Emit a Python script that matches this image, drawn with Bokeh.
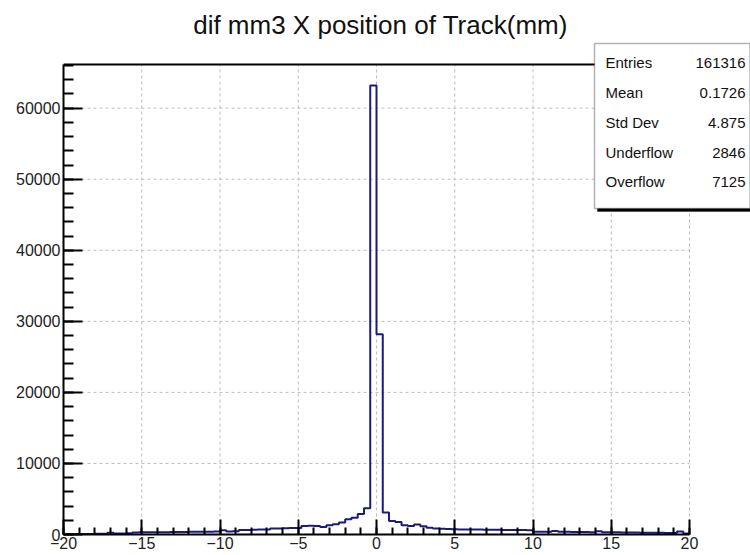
import numpy as np
from bokeh.plotting import figure
from bokeh.models import SingleIntervalTicker, Range1d, Label, BoxAnnotation
from bokeh.embed import file_html
from bokeh.resources import INLINE

# ---- data ----
title_text = "dif mm3 X position of Track(mm)"
bin_lo = -20.0
bin_hi = 20.0
counts = [
    40, 50, 60, 70, 80, 90, 110,
    260, 130, 140,
    160,
    290, 300, 310, 320, 330, 330, 340, 350, 360, 370, 380, 390, 400, 410,
    590, 430, 450,
    640, 650, 670, 690, 710,
    840, 860, 880, 900, 930,
    1200, 1230, 1210,
    1050, 1300, 1450,
    1700, 2150, 2350, 2900, 3700,
    63200, 28200,
    3100, 1900, 1750, 1300, 1200, 1400, 1150, 950, 850, 800,
    760, 740, 720, 710, 700, 690, 680, 670, 660, 650, 640, 630, 620, 610,
    380, 400, 390, 480, 380, 370, 360, 350, 340, 330, 450, 320, 310, 300,
    290, 280, 270, 260, 250, 240, 230, 220, 210, 420, 150,
]
assert len(counts) == 100
y_max = 66150
x_ticks = [-20, -15, -10, -5, 0, 5, 10, 15, 20]
x_tick_labels = ["\u221220", "\u221215", "\u221210", "\u22125", "0", "5", "10", "15", "20"]
y_ticks = [0, 10000, 20000, 30000, 40000, 50000, 60000]
stat_names = ["Entries", "Mean", "Std Dev", "Underflow", "Overflow"]
stat_values = ["161316", "0.1726", "4.875", "2846", "7125"]

# ---- layout (pixels) ----
W, H = 750, 555
FL, FR = 63, 689      # plot-area left / right (x = bin_lo / bin_hi)
FT, FB = 64, 534      # plot-area top / bottom (y = y_max / 0)


def dx(px):
    return bin_lo + (px - FL) * (bin_hi - bin_lo) / (FR - FL)


def dy(py):
    return (FB - py) * y_max / (FB - FT)


p = figure(width=W, height=H, output_backend="svg", toolbar_location=None,
           x_range=Range1d(bin_lo, dx(W)), y_range=Range1d(0, dy(0)),
           min_border_left=FL, min_border_right=0, min_border_top=0,
           min_border_bottom=H - FB)
p.background_fill_color = "white"
p.border_fill_color = "white"
p.outline_line_color = None
p.xgrid.visible = False
p.ygrid.visible = False

xt = SingleIntervalTicker(interval=5, num_minor_ticks=5)
yt = SingleIntervalTicker(interval=10000, num_minor_ticks=5)
p.xaxis.ticker = xt
p.yaxis.ticker = yt
p.xaxis.bounds = (bin_lo, bin_hi)
p.yaxis.bounds = (0, y_max)
p.xaxis.major_label_overrides = dict(zip(x_ticks, x_tick_labels))

for ax in (p.xaxis, p.yaxis):
    ax.axis_line_width = 2
    ax.axis_line_color = "black"
    ax.major_tick_line_width = 2
    ax.minor_tick_line_width = 2
    ax.major_tick_line_color = "black"
    ax.minor_tick_line_color = "black"
    ax.major_tick_out = 0
    ax.minor_tick_out = 0
    ax.major_label_text_font = "Liberation Sans"
    ax.major_label_text_font_size = "16px"
    ax.major_label_text_color = "#222222"
p.xaxis.major_tick_in = 15
p.xaxis.minor_tick_in = 7
p.yaxis.major_tick_in = 19
p.yaxis.minor_tick_in = 10
p.xaxis.major_label_standoff = 2
p.yaxis.major_label_standoff = 3

# grid (dotted, at major ticks, inside the plot area only)
grid_col = "#bdbdbd"
p.segment(x0=x_ticks, x1=x_ticks, y0=[0] * len(x_ticks), y1=[y_max] * len(x_ticks),
          line_color=grid_col, line_dash="3 3", line_width=1)
p.segment(x0=[bin_lo] * len(y_ticks), x1=[bin_hi] * len(y_ticks), y0=y_ticks, y1=y_ticks,
          line_color=grid_col, line_dash="3 3", line_width=1)
# top frame edge
p.segment(x0=[bin_lo], x1=[bin_hi], y0=[y_max], y1=[y_max], line_color="black", line_width=2)

edges = np.linspace(bin_lo, bin_hi, len(counts) + 1)
p.step(x=list(edges), y=counts + [counts[-1]], mode="after",
       line_color="#1a1a80", line_width=2)

# ---- title ----
p.add_layout(Label(x=dx(380), y=dy(24), text=title_text, text_align="center",
                   text_baseline="middle", text_font="Liberation Sans",
                   text_font_size="26px", text_color="#111111"))

# ---- stats box ----
bl, br, bt, bb = 594, 749.5, 43, 208
sh = 3
p.add_layout(BoxAnnotation(left=dx(bl + sh), right=dx(br + sh), top=dy(bt + sh), bottom=dy(bb + sh),
                           fill_color="black", fill_alpha=1, line_color="black"))
p.add_layout(BoxAnnotation(left=dx(bl), right=dx(br), top=dy(bt), bottom=dy(bb),
                           fill_color="white", fill_alpha=1, line_color="black", line_width=1.5))
row_py = [62, 92, 122, 152, 181]
for name, val, py in zip(stat_names, stat_values, row_py):
    p.add_layout(Label(x=dx(605), y=dy(py), text=name, text_align="left", text_baseline="middle",
                       text_font="Liberation Sans", text_font_size="15px", text_color="#111111"))
    p.add_layout(Label(x=dx(745), y=dy(py), text=val, text_align="right", text_baseline="middle",
                       text_font="Liberation Sans", text_font_size="15px", text_color="#111111"))

open("out.html", "w").write(file_html(p, INLINE))
